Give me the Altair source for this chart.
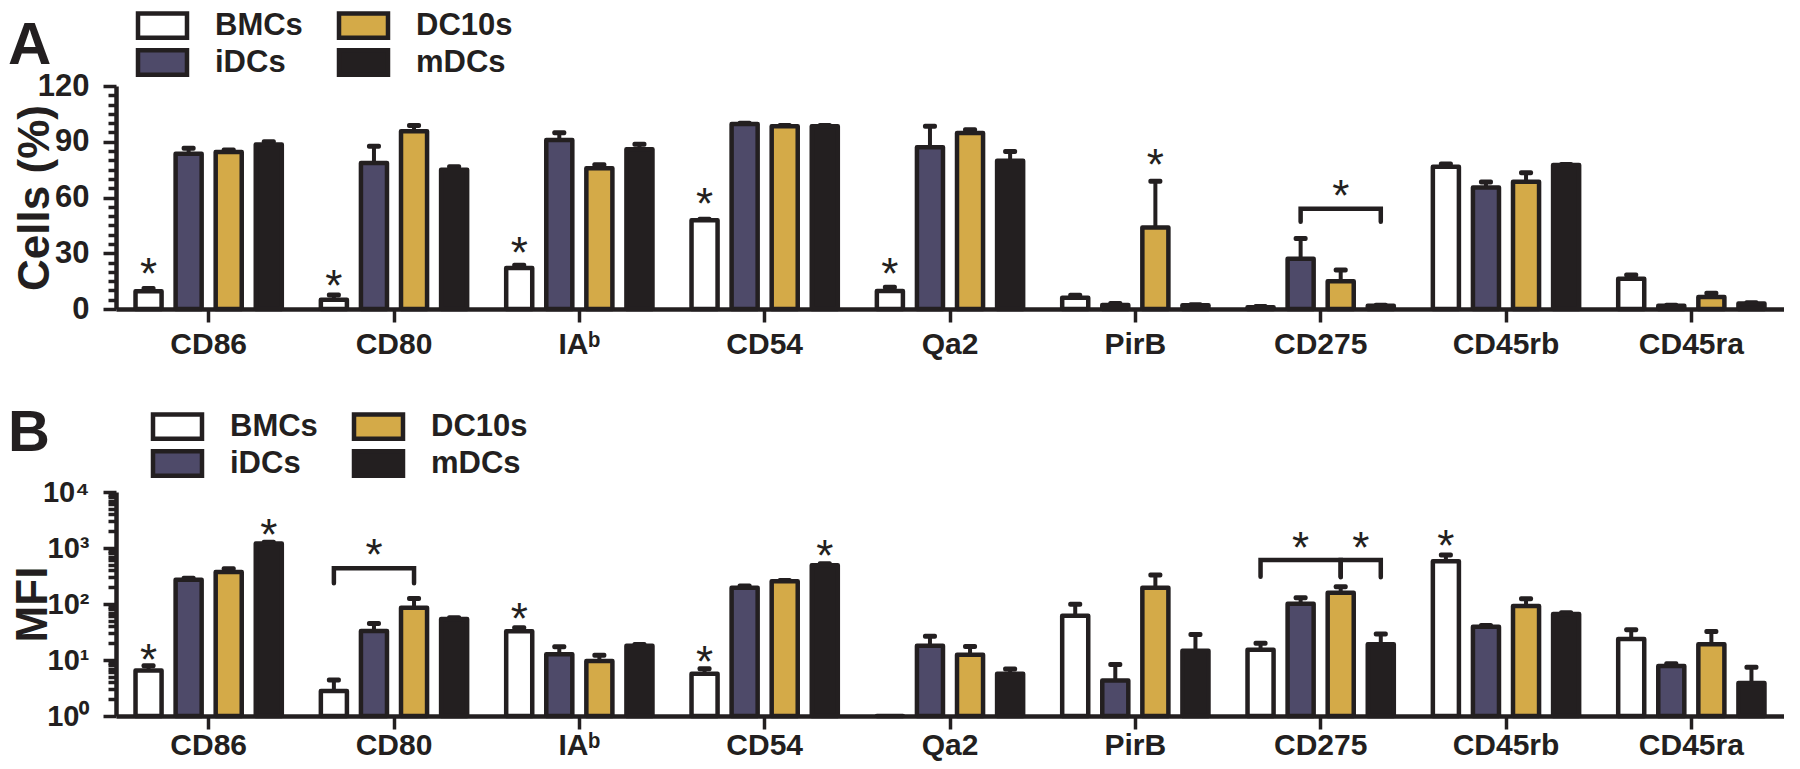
import altair as alt
import pandas as pd

INK = "#231f20"
FONT = "Liberation Sans"

markers = ["CD86", "CD80", "IAᵇ", "CD54", "Qa2", "PirB", "CD275", "CD45rb", "CD45ra"]
groups = ["BMCs", "iDCs", "DC10s", "mDCs"]
group_colors = ["#ffffff", "#4e4a69", "#d4aa48", "#231f20"]

# Panel A: Cells (%)
a_bmcs = [9.5, 5.0, 22.0, 47.8, 9.7, 6.1, 1.0, 76.5, 16.3]
a_bmcs_err = [1.5, 2.5, 1.5, 0.5, 2.0, 1.3, 0.3, 1.5, 2.0]
a_idcs = [83.5, 78.6, 90.9, 99.5, 87.0, 2.2, 27.0, 65.4, 1.7]
a_idcs_err = [3.0, 9.0, 4.0, 0.5, 11.3, 0.7, 11.0, 3.0, 0.3]
a_dc10 = [84.5, 95.7, 75.8, 98.4, 94.7, 43.8, 15.0, 68.5, 6.5]
a_dc10_err = [1.0, 3.0, 1.8, 0.4, 1.8, 24.9, 6.0, 4.8, 2.0]
a_mdcs = [88.5, 75.0, 86.0, 98.4, 79.8, 2.0, 1.7, 77.5, 2.9]
a_mdcs_err = [1.5, 1.5, 2.7, 0.3, 5.0, 0.3, 0.3, 0.3, 0.4]

# Panel B: MFI
b_bmcs = [6.5, 2.8, 32.5, 5.7, 1.0, 62.0, 15.2, 582.0, 23.6]
b_bmcs_err = [1.4, 1.6, 5.0, 1.3, 0.0, 37.0, 4.8, 170.0, 11.0]
b_idcs = [272.0, 33.0, 12.7, 195.0, 17.9, 4.3, 100.7, 39.4, 7.8]
b_idcs_err = [15.0, 12.0, 4.5, 15.0, 8.6, 4.0, 28.0, 2.0, 0.8]
b_dc10 = [374.0, 85.5, 9.6, 254.0, 12.4, 195.0, 159.0, 91.7, 19.2]
b_dc10_err = [50.0, 40.0, 2.5, 10.0, 5.0, 135.0, 45.0, 33.0, 13.0]
b_mdcs = [1205.0, 54.0, 17.9, 493.0, 5.7, 14.6, 19.2, 66.0, 3.9]
b_mdcs_err = [60.0, 3.0, 1.0, 30.0, 1.2, 14.0, 10.0, 4.0, 3.5]

# significance stars (marker, group, height)
a_star_marker = ["CD86", "CD80", "IAᵇ", "CD54", "Qa2", "PirB", "CD275"]
a_star_group = ["BMCs", "BMCs", "BMCs", "BMCs", "BMCs", "DC10s", "DC10s"]
a_star_y = [24, 18, 35.6, 62, 24, 83, 66]

b_star_marker = ["CD86", "CD86", "CD80", "IAᵇ", "CD54", "CD54", "CD275", "CD45rb"]
b_star_group = ["BMCs", "mDCs", "iDCs", "BMCs", "BMCs", "mDCs", "iDCs", "BMCs"]
b_star_y = [14.8, 2620, 1140, 83, 13.8, 1070, 1515, 1620]
b_star2_marker = ["CD275"]
b_star2_group = ["mDCs"]
b_star2_y = [1515]

# brackets: id, marker, group, height
a_br_id = ["a1", "a1", "a1", "a1"]
a_br_marker = ["CD275"] * 4
a_br_group = ["iDCs", "iDCs", "mDCs", "mDCs"]
a_br_y = [47, 54, 54, 47]

b_br_id = ["b1"] * 4 + ["b2"] * 4 + ["b3"] * 4
b_br_marker = ["CD80"] * 4 + ["CD275"] * 8
b_br_group = ["BMCs", "BMCs", "DC10s", "DC10s",
              "BMCs", "BMCs", "DC10s", "DC10s",
              "DC10s", "DC10s", "mDCs", "mDCs"]
b_br_y = [234, 436, 436, 234, 307, 613, 613, 307, 300, 613, 613, 300]


def bars_df(vals, errs):
    rows = []
    for gi, g in enumerate(groups):
        for mi, m in enumerate(markers):
            rows.append({"marker": m, "group": g, "value": vals[gi][mi], "err": errs[gi][mi]})
    df = pd.DataFrame(rows)
    df["top"] = df["value"] + df["err"]
    return df


def x_enc(lpad):
    return alt.X("marker:N", sort=markers,
                 scale=alt.Scale(paddingInner=0.135, paddingOuter=0.0675),
                 axis=alt.Axis(title=None, labelAngle=0, labelFontSize=30, labelPadding=lpad,
                               tickSize=13, tickWidth=3.5, domainWidth=4.5))


def xo_enc():
    return alt.XOffset("group:N", sort=groups,
                       scale=alt.Scale(paddingInner=0.35, paddingOuter=0.175))


def make_legend(lx, ly):
    return alt.Legend(
        orient="none", legendX=lx, legendY=ly, columns=2, title=None,
        symbolType="M-2,-1H2V1H-2Z", symbolSize=600, symbolStrokeColor=INK,
        symbolStrokeWidth=4.5, symbolOpacity=1,
        labelFont=FONT, labelFontWeight="bold", labelFontSize=31, labelColor=INK,
        labelOffset=37, labelLimit=0, columnPadding=27, rowPadding=-15, padding=0)


def panel(letter, lpos, vals, errs, yscale, yaxis, legend, stars, stars2, brackets, lpad, lsize):
    df = bars_df(vals, errs)

    def y_enc(field):
        return alt.Y(field, scale=yscale, axis=yaxis)

    color = alt.Color("group:N", sort=groups,
                      scale=alt.Scale(domain=groups, range=group_colors), legend=legend)
    base = alt.Chart(df)
    err_df = base.transform_filter("datum.err > 0")
    rules = err_df.mark_rule(color=INK, strokeWidth=4, opacity=1).encode(
        x=x_enc(lpad), xOffset=xo_enc(), y=y_enc("value:Q"), y2="top:Q")
    caps = err_df.mark_tick(color=INK, size=14, thickness=5, cornerRadius=2, opacity=1).encode(
        x=x_enc(lpad), xOffset=xo_enc(), y=y_enc("top:Q"))
    bar_enc = dict(x=x_enc(lpad), xOffset=xo_enc(), y=y_enc("value:Q"), color=color)
    if yscale.type == "log":
        bar_enc["y2"] = alt.datum(1)
    bars = base.mark_bar(stroke=INK, strokeWidth=4.5, strokeJoin="round", opacity=1).encode(**bar_enc)
    st = alt.Chart(stars).mark_text(text="*", font=FONT, fontSize=44, color=INK,
                                    baseline="alphabetic", dy=25).encode(
        x=x_enc(lpad), xOffset=xo_enc(), y=y_enc("y:Q"))
    layers = [rules, caps, bars, st]
    if stars2 is not None:
        st2 = alt.Chart(stars2).mark_text(text="*", font=FONT, fontSize=44, color=INK,
                                          baseline="alphabetic", dy=25, dx=-20).encode(
            x=x_enc(lpad), xOffset=xo_enc(), y=y_enc("y:Q"))
        layers.append(st2)
    br = alt.Chart(brackets).mark_line(color=INK, strokeWidth=4.5, strokeCap="round",
                                       strokeJoin="miter").encode(
        x=x_enc(lpad), xOffset=xo_enc(), y=y_enc("y:Q"), detail="bid:N", order="ord:Q")
    layers.append(br)
    lab = alt.Chart(pd.DataFrame({"letter": [letter]})).mark_text(
        align="left", baseline="alphabetic", font=FONT, fontSize=lsize,
        fontWeight="bold", color=INK).encode(
        text="letter:N", x=alt.value(lpos[0]), y=alt.value(lpos[1]))
    layers.append(lab)
    return alt.layer(*layers)


def br_df(ids, ms, gs, ys):
    return pd.DataFrame({"bid": ids, "marker": ms, "group": gs, "y": ys,
                         "ord": list(range(len(ids)))})


W = 1668
A_H = 223
B_H = 224

# ---- Panel A
ya_scale = alt.Scale(domain=[0, 120], nice=False)
ya_axis = alt.Axis(
    title="Cells (%)", values=list(range(0, 121, 5)),
    labelExpr="datum.value % 30 === 0 ? datum.label : ''",
    tickSize={"condition": {"test": "datum.value % 30 === 0", "value": 13}, "value": 8},
    tickWidth=3.5, domainWidth=4.5, labelFontSize=31, labelPadding=14, labelOverlap=False,
    titleFontSize=44, titleX=-68, titleY=A_H / 2, titleAngle=270, titleAlign="center",
    titleBaseline="alphabetic")
panelA = panel(
    "A", (-108, -22),
    [a_bmcs, a_idcs, a_dc10, a_mdcs], [a_bmcs_err, a_idcs_err, a_dc10_err, a_mdcs_err],
    ya_scale, ya_axis, make_legend(31, -76),
    pd.DataFrame({"marker": a_star_marker, "group": a_star_group, "y": a_star_y}),
    None,
    br_df(a_br_id, a_br_marker, a_br_group, a_br_y), 7, 60,
).properties(width=W, height=A_H)

# ---- Panel B
decade_test = "abs(log(datum.value)/LN10 - round(log(datum.value)/LN10)) < 1e-6"
yb_values = [k * 10 ** e for e in range(0, 4) for k in range(1, 10)] + [10000]
yb_scale = alt.Scale(type="log", domain=[1, 10000], nice=False)
yb_axis = alt.Axis(
    title="MFI", values=yb_values,
    labelExpr=decade_test + " ? '10' + ['⁰','¹','²','³','⁴'][round(log(datum.value)/LN10)] : ''",
    tickSize={"condition": {"test": decade_test, "value": 13}, "value": 8},
    tickWidth=3.5, domainWidth=4.5, labelFontSize=29, labelPadding=14, labelOverlap=False,
    titleFontSize=44, titleX=-70, titleY=B_H / 2, titleAngle=270, titleAlign="center",
    titleBaseline="alphabetic")
panelB = panel(
    "B", (-108, -41),
    [b_bmcs, b_idcs, b_dc10, b_mdcs], [b_bmcs_err, b_idcs_err, b_dc10_err, b_mdcs_err],
    yb_scale, yb_axis, make_legend(46, -81),
    pd.DataFrame({"marker": b_star_marker, "group": b_star_group, "y": b_star_y}),
    pd.DataFrame({"marker": b_star2_marker, "group": b_star2_group, "y": b_star2_y}),
    br_df(b_br_id, b_br_marker, b_br_group, b_br_y), 1, 58,
).properties(width=W, height=B_H)

chart = alt.vconcat(panelA, panelB, spacing=46).resolve_scale(
    color="independent"
).properties(
    padding={"left": 0, "top": 2, "right": 0, "bottom": 1}
).configure_view(stroke=None).configure_axis(
    labelFont=FONT, titleFont=FONT, labelFontWeight="bold", titleFontWeight="bold",
    labelColor=INK, titleColor=INK, domainColor=INK, tickColor=INK, grid=False)

chart.save("out.html", embed_options={"renderer": "svg", "actions": False})
